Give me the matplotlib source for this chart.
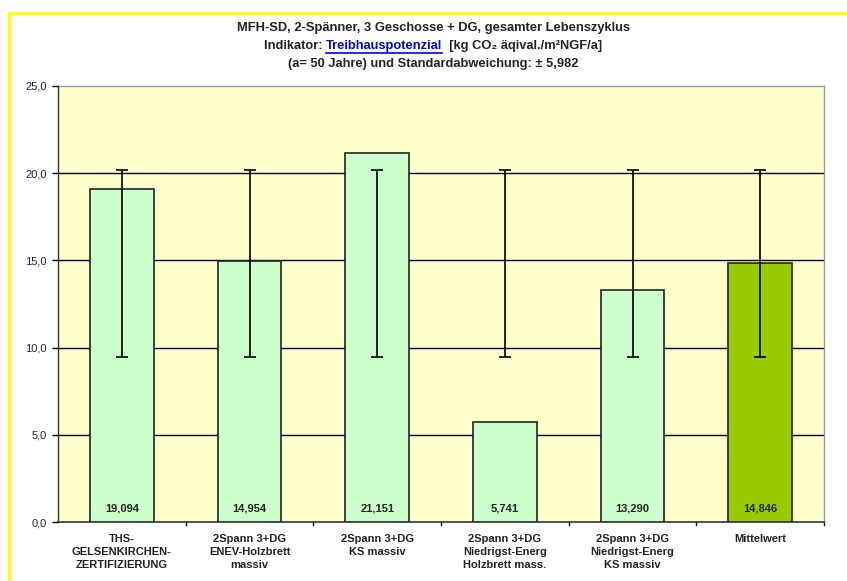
import numpy as np
import matplotlib.pyplot as plt
from matplotlib.lines import Line2D

plt.rcParams['font.family'] = ['Liberation Sans', 'DejaVu Sans']

# Daten
kategorien = ['THS-\nGELSENKIRCHEN-\nZERTIFIZIERUNG',
              '2Spann 3+DG\nENEV-Holzbrett\nmassiv',
              '2Spann 3+DG\nKS massiv',
              '2Spann 3+DG\nNiedrigst-Energ\nHolzbrett mass.',
              '2Spann 3+DG\nNiedrigst-Energ\nKS massiv',
              'Mittelwert']
werte = [19.094, 14.954, 21.151, 5.741, 13.290, 14.846]
wert_texte = ['19,094', '14,954', '21,151', '5,741', '13,290', '14,846']
fehler_mitte = 14.846
fehler = 5.36
y_ticks = [0, 5, 10, 15, 20, 25]
y_tick_texte = ['0,0', '5,0', '10,0', '15,0', '20,0', '25,0']

fig = plt.figure(figsize=(8.47, 5.81), dpi=100)
ax = fig.add_axes([58/847, 1 - 522/581, 766/847, 436/581])
ax.set_facecolor('#FFFFCC')

x = np.arange(len(werte))
farben = ['#CCFFCC'] * 5 + ['#99CC00']
ax.bar(x, werte, width=0.5, color=farben, edgecolor='#222222', linewidth=1.2, zorder=3)
ax.errorbar(x, [fehler_mitte] * len(x), yerr=fehler, fmt='none', ecolor='black',
            elinewidth=1.2, capsize=4, capthick=1.2, zorder=4)

for xi, t in zip(x, wert_texte):
    ax.text(xi, 0.75, t, ha='center', va='center', fontsize=8, fontweight='bold',
            color='#222222', zorder=5)

ax.set_xlim(-0.5, len(werte) - 0.5)
ax.set_ylim(0, 25)
ax.set_yticks(y_ticks)
ax.set_yticklabels(y_tick_texte, fontsize=8, color='#222222')
for yv in y_ticks[1:-1]:
    ax.axhline(yv, color='black', linewidth=1.0, zorder=1)
ax.tick_params(axis='y', direction='out', length=4, width=1.0, pad=4)

ax.set_xticks(x)
ax.set_xticklabels(kategorien, fontsize=8, fontweight='bold', linespacing=1.35,
                   color='#222222')
ax.tick_params(axis='x', length=0, pad=9)
for b in np.arange(-0.5, len(werte), 1.0)[1:]:
    ax.plot([b, b], [0, -0.2], color='black', linewidth=1.0, clip_on=False)

for s in ['top', 'right']:
    ax.spines[s].set_visible(False)
ax.spines['left'].set_color('#333333')
ax.spines['bottom'].set_color('#333333')
ax.spines['left'].set_linewidth(1.0)
ax.spines['bottom'].set_linewidth(1.2)
ax.plot([-0.5, len(werte) - 0.5], [25, 25], color='#999999', linewidth=1.0, clip_on=False)
ax.plot([len(werte) - 0.5] * 2, [0, 25], color='#999999', linewidth=1.0, clip_on=False)

# gelber Rahmen (nur oben und links sichtbar)
fig.lines.append(Line2D([8.5/847, 1.0], [1 - 13/581, 1 - 13/581], transform=fig.transFigure,
                        color='#FFFF00', linewidth=2.2))
fig.lines.append(Line2D([8.5/847, 8.5/847], [0, 1 - 13/581], transform=fig.transFigure,
                        color='#FFFF00', linewidth=2.2))

# Titel
fs = 9.3
fig.text(433/847, 1 - 28/581, 'MFH-SD, 2-Spänner, 3 Geschosse + DG, gesamter Lebenszyklus',
         ha='center', va='center', fontsize=fs, fontweight='bold', color='#222222')
fig.text(433/847, 1 - 64/581, '(a= 50 Jahre) und Standardabweichung: ± 5,982',
         ha='center', va='center', fontsize=fs, fontweight='bold', color='#222222')

teile = [('Indikator: ', '#222222'), ('Treibhauspotenzial', '#0000EE'),
         ('  [kg CO₂ äqival./m²NGF/a]', '#222222')]
renderer = fig.canvas.get_renderer()
objs = []
breite = 0
for t, c in teile:
    o = fig.text(0, 1 - 46/581, t, ha='left', va='center', fontsize=fs,
                 fontweight='bold', color=c)
    w = o.get_window_extent(renderer).width
    objs.append((o, w))
    breite += w
start = 433 - breite / 2
for i, (o, w) in enumerate(objs):
    o.set_x(start / 847)
    if i == 1:
        fig.lines.append(Line2D([start / 847, (start + w) / 847],
                                [1 - 52.5/581, 1 - 52.5/581], transform=fig.transFigure,
                                color='#0000EE', linewidth=1.2))
    start += w

fig.savefig('out.png', dpi=100)
